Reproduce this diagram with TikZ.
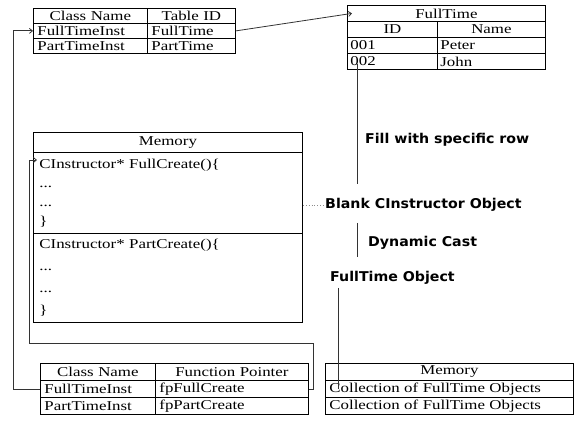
\documentclass[tikz,border=0pt]{standalone}
\usepackage{fontspec}
\setmainfont{Liberation Serif}[FakeStretch=1.25]
\newfontfamily\handfont{DejaVu Sans}[FakeStretch=1.05]
\usetikzlibrary{arrows.meta,positioning,calc}
\definecolor{cLine}{HTML}{333333}
\definecolor{cDot}{HTML}{8C8C8C}
\newcommand{\tabfont}{\fontsize{13.5}{15}\selectfont}
\newcommand{\codeAfont}{\fontsize{13.5}{19}\selectfont}
\newcommand{\codeBfont}{\fontsize{13.5}{22}\selectfont}
\newcommand{\notefont}{\handfont\bfseries\fontsize{13.5}{15}\selectfont}
\tikzset{
  cell/.style ={draw, line width=0.8pt, font=\tabfont, inner xsep=3pt, inner ysep=0pt,
                anchor=north west, minimum height=#1},
  note/.style ={font=\notefont, anchor=west, inner sep=0pt},
  link/.style ={draw=cLine, line width=0.8pt},
  alink/.style={link, -{Straight Barb[length=3pt,width=5pt]}},
  dlink/.style={draw=cDot, line width=0.9pt, dotted},
}
\begin{document}
\begin{tikzpicture}[x=1pt,y=-1pt]
  \useasboundingbox (0,0) rectangle (581,428);
  % class name -> table id
  \node[cell=15, text width=106pt, inner xsep=4pt, align=center] (tAcn) at (33,8) {Class Name};
  \node[cell=15, text width=80pt, inner xsep=4pt, align=center]  (tAid) at (147,8) {Table ID};
  \node[cell=15, text width=106pt, inner xsep=4pt, align=left]   (tAfi) at (33,23) {FullTimeInst};
  \node[cell=15, text width=80pt, inner xsep=4pt, align=left]    (tAft) at (147,23) {FullTime};
  \node[cell=15, text width=106pt, inner xsep=4pt, align=left]   (tApi) at (33,38) {PartTimeInst};
  \node[cell=15, text width=80pt, inner xsep=4pt, align=left]    (tApt) at (147,38) {PartTime};
  % FullTime table
  \node[cell=16, text width=192pt, align=center] (tBhd) at (347,5) {FullTime};
  \node[cell=16, text width=84pt, align=center]  (tBid) at (347,21) {ID};
  \node[cell=16, text width=102pt, align=center] (tBnm) at (437,21) {Name};
  \node[cell=16, text width=84pt, align=left]    (tB1) at (347,37) {001};
  \node[cell=16, text width=102pt, align=left]   (tBpe) at (437,37) {Peter};
  \node[cell=16, text width=84pt, align=left]    (tB2) at (347,53) {002};
  \node[cell=16, text width=102pt, align=left]   (tBjo) at (437,53) {John};
  % memory with the create functions
  \node[cell=20, text width=263pt, align=center] (memH) at (33,132) {Memory};
  \node[cell=81, text width=257pt, inner xsep=6pt, align=left, font=\codeAfont] (memA) at (33,152)
    {CInstructor* FullCreate()\{\\...\\...\\\}};
  \node[cell=89, text width=257pt, inner xsep=6pt, align=left, font=\codeBfont] (memB) at (33,233)
    {CInstructor* PartCreate()\{\\...\\...\\\}};
  % class name -> function pointer
  \node[cell=17, text width=107pt, inner xsep=4pt, align=center] (tCcn) at (40,363) {Class Name};
  \node[cell=17, text width=145pt, inner xsep=4pt, align=center] (tCfp) at (155,363) {Function Pointer};
  \node[cell=17, text width=107pt, inner xsep=4pt, align=left]   (tCfi) at (40,380) {FullTimeInst};
  \node[cell=17, text width=145pt, inner xsep=4pt, align=left]   (tCff) at (155,380) {fpFullCreate};
  \node[cell=17, text width=107pt, inner xsep=4pt, align=left]   (tCpi) at (40,397) {PartTimeInst};
  \node[cell=17, text width=145pt, inner xsep=4pt, align=left]   (tCpp) at (155,397) {fpPartCreate};
  % memory with the objects
  \node[cell=17, text width=240pt, inner xsep=4pt, align=center] (tDhd) at (325,363) {Memory};
  \node[cell=17, text width=240pt, inner xsep=4pt, align=left]   (tDc1) at (325,380) {Collection of FullTime Objects};
  \node[cell=17, text width=240pt, inner xsep=4pt, align=left]   (tDc2) at (325,397) {Collection of FullTime Objects};
  % notes
  \node[note] (lfill)  at (365,140) {Fill with specific row};
  \node[note] (lblank) at (325,205) {Blank CInstructor Object};
  \node[note] (ldyn)   at (368,243) {Dynamic Cast};
  \node[note] (lobj)   at (330,278) {FullTime Object};
  \coordinate (loopR) at (313,343);
  \coordinate (fcin)  at (37,160);
  % connectors
  \draw[alink] (tAft.east) -- ([xshift=5pt]tBhd.west);
  \draw[alink] (tCfi.west) -- ++(-27,0) |- (tAfi.west);
  \draw[alink] (tCff.east) -| (loopR) -| ([xshift=-8pt]fcin) -- (fcin);
  \draw[link, shorten >=14pt] ([xshift=10pt,yshift=-3pt]tB2.west) -- ([xshift=10pt]tB2.west |- lblank.north);
  \draw[dlink] (memA.east |- lblank.west) -- (lblank.west);
  \draw[link, shorten <=11pt, shorten >=14pt] ([xshift=10pt]tB2.west |- lblank.south) -- ([xshift=10pt]tB2.west |- lobj.north);
  \draw[link, shorten <=3pt] ([xshift=8pt]lobj.south west) -- ([xshift=8pt]lobj.south west |- tDc1.center);
\end{tikzpicture}
\end{document}
